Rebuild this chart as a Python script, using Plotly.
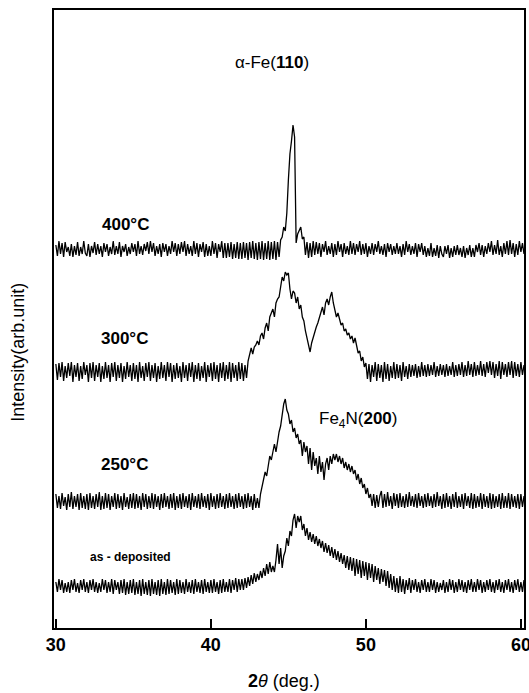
import numpy as np
import plotly.graph_objects as go

# 2-theta sampling grid (deg), 30.0 .. 60.2 in 0.1 deg steps
two_theta = np.round(np.arange(300, 603) / 10.0, 1)

# Intensity (arb. units, relative to each pattern's own baseline)
int_400C = [
    4,-7,8,-5,6,-8,7,-3,2,-7,
    5,-8,3,-6,7,-7,2,-5,8,-4,
    -7,5,-8,3,-4,7,-6,5,-5,3,
    -8,6,-3,5,-7,2,-5,8,-6,3,
    -5,7,-8,3,-3,5,-7,2,-5,6,
    -3,5,-7,8,-5,3,-6,5,-2,7,
    -5,8,-3,6,-7,3,-5,5,-8,6,
    -3,5,-7,3,-5,8,-3,6,-7,5,
    -5,7,-3,8,-7,5,-5,3,-7,8,
    -5,6,-8,5,-3,7,-8,5,-7,3,
    -7,8,-5,6,-9,5,-3,8,-9,6,
    -9,6,-8,7,-10,5,-9,7,-10,6,
    -10,7,-9,6,-11,7,-9,8,-10,6,
    -11,7,-10,8,-11,6,-10,8,-11,7,
    -10,8,-11,7,-8,9,12,22,18,36,
    69,95,108,124,112,6,15,18,22,10,
    12,-6,7,-9,6,-8,8,-6,7,-5,
    6,-8,5,-3,8,-6,3,-5,6,-8,
    5,-6,8,-3,5,-8,6,-5,3,-6,
    8,-5,6,-6,5,-3,8,-6,5,-5,
    6,-8,3,-5,6,-6,5,-3,8,-5,
    3,-6,5,-8,6,-3,5,-6,3,-5,
    6,-5,3,-8,5,-6,8,-3,5,-6,
    3,-5,6,-8,5,-3,6,-6,3,-8,
    1,-7,6,-8,1,-7,4,-9,3,-5,
    -8,3,-5,4,-9,1,-8,3,-6,4,
    -6,1,-8,3,-9,1,-6,4,-8,1,
    -8,4,-3,6,-6,4,-8,3,-5,6,
    -3,8,-6,4,-5,9,-6,3,-8,6,
    -5,8,-6,9,-5,6,-8,5,-6,8,
    -3,6,-5,
]

int_300C = [
    5,-11,6,-8,7,-12,3,-9,6,-7,
    7,-13,4,-8,6,-12,3,-10,7,-6,
    4,-13,6,-9,7,-12,4,-8,6,-13,
    3,-10,7,-9,4,-13,6,-8,7,-12,
    4,-9,6,-13,3,-10,7,-8,4,-12,
    6,-10,4,-13,7,-9,3,-12,6,-8,
    7,-12,4,-9,6,-13,3,-10,7,-9,
    4,-12,7,-8,6,-13,4,-10,6,-9,
    3,-13,7,-9,4,-12,6,-8,7,-13,
    4,-10,6,-12,3,-9,7,-13,4,-8,
    6,-12,7,-10,4,-13,6,-9,7,-12,
    4,-10,7,-13,6,-9,4,-12,7,-10,
    6,-12,4,-9,8,14,21,15,22,24,
    28,24,33,36,30,41,46,38,52,56,
    60,52,66,70,72,82,92,88,97,94,
    96,80,70,78,76,66,72,60,64,52,
    48,38,30,24,17,26,32,36,42,46,
    52,58,62,54,66,70,64,72,77,66,
    59,52,56,49,44,46,38,40,34,36,
    30,33,26,31,22,16,18,8,12,2,
    6,-10,5,-13,4,-8,7,-12,5,-9,
    4,-13,7,-10,5,-12,3,-9,7,-10,
    5,-9,4,-12,7,-8,3,-10,5,-8,
    4,-7,5,-9,3,-8,7,-7,4,-8,
    5,-7,4,-6,7,-8,3,-7,5,-6,
    4,-8,5,-7,3,-6,7,-8,4,-7,
    5,-6,7,-8,4,-7,8,-6,5,-8,
    7,-7,4,-6,8,-7,5,-8,7,-4,
    8,-6,7,-9,5,-7,8,-10,7,-6,
    5,-8,7,-6,8,-9,7,-7,5,-8,
    7,-6,4,
]

int_250C = [
    6,-8,4,-9,7,-6,3,-10,6,-7,
    8,-9,4,-7,6,-10,7,-8,4,-9,
    6,-10,7,-8,4,-9,6,-7,8,-10,
    4,-9,7,-8,6,-10,4,-7,7,-9,
    6,-8,4,-10,7,-7,3,-9,6,-8,
    7,-9,6,-8,4,-10,7,-7,6,-9,
    4,-8,7,-9,6,-7,4,-10,6,-8,
    7,-7,4,-9,6,-8,7,-10,4,-8,
    6,-9,7,-7,4,-8,6,-10,7,-7,
    4,-8,6,-9,7,-7,4,-8,6,-10,
    7,-7,4,-9,6,-8,7,-7,4,-9,
    6,-8,7,-7,4,-9,6,-8,7,-7,
    4,-9,6,-8,7,-7,4,-10,6,-8,
    2,-8,6,14,22,28,24,36,44,40,
    50,56,48,60,68,74,86,96,101,90,
    86,76,80,68,72,62,66,56,60,44,
    58,48,54,36,52,30,48,34,42,26,
    44,28,38,20,36,42,30,44,36,46,
    40,46,38,44,36,42,32,38,30,36,
    28,34,26,30,20,26,16,22,12,16,
    6,12,2,6,-6,6,-8,5,-7,4,
    9,-8,6,-7,8,-6,4,-9,7,-6,
    6,-8,7,-7,4,-8,6,-7,8,-6,
    4,-7,6,-8,7,-6,4,-8,6,-7,
    7,-6,4,-8,6,-7,8,-6,4,-9,
    6,-8,7,-7,4,-9,6,-7,8,-8,
    4,-7,6,-9,7,-6,4,-8,7,-9,
    6,-8,4,-7,7,-9,6,-7,4,-8,
    7,-9,6,-8,4,-7,6,-9,7,-8,
    4,-8,7,-9,6,-7,4,-8,6,-9,
    6,-7,4,
]

int_as_dep = [
    4,-6,7,-4,6,-7,3,-6,4,-7,
    6,-4,7,-6,3,-7,6,-4,7,-6,
    4,-7,6,-4,7,-6,4,-7,3,-6,
    7,-4,6,-7,4,-6,7,-8,6,-4,
    4,-8,6,-7,7,-9,4,-8,6,-7,
    7,-9,4,-8,6,-10,7,-8,4,-9,
    6,-10,7,-8,4,-9,6,-10,7,-8,
    4,-9,7,-8,6,-7,4,-9,7,-8,
    6,-7,4,-8,7,-6,4,-7,6,-8,
    7,-6,4,-7,6,-8,7,-6,4,-7,
    6,-7,7,-6,4,-8,6,-7,7,-6,
    4,-6,7,-7,6,-4,8,-6,7,-4,
    7,-4,8,-2,9,0,11,2,13,4,
    12,6,15,8,18,10,22,12,24,14,
    20,14,26,42,22,38,18,30,35,48,
    40,55,50,66,72,58,70,64,70,56,
    62,50,58,46,54,44,52,42,50,40,
    47,38,45,34,43,33,41,30,39,28,
    37,26,35,24,33,22,31,18,30,16,
    29,15,28,10,27,12,26,8,25,10,
    24,6,23,8,22,4,20,6,18,2,
    17,4,16,0,15,-2,12,-4,10,-6,
    8,-7,10,-6,7,-8,6,-4,8,-7,
    6,-4,7,-6,4,-7,6,-4,7,-6,
    4,-6,7,-4,6,-7,4,-6,3,-4,
    6,-7,4,-6,7,-4,6,-7,4,-6,
    7,-4,6,-6,4,-7,6,-4,7,-6,
    4,-6,7,-4,6,-7,4,-6,6,-4,
    7,-6,4,-7,6,-4,7,-6,4,-7,
    6,-4,7,-6,4,-7,6,-4,7,-6,
    4,-6,6,
]

series = [
    ("400°C", int_400C, 379),
    ("300°C", int_300C, 259),
    ("250°C", int_250C, 128),
    ("as-deposited", int_as_dep, 42),
]

FONT = "Liberation Sans, Arial, Helvetica, sans-serif"

fig = go.Figure()
for name, vals, base in series:
    fig.add_trace(go.Scatter(
        x=two_theta, y=np.array(vals) + base, mode="lines", name=name,
        line=dict(color="black", width=1.3), showlegend=False,
    ))

fig.update_layout(
    width=529, height=693,
    margin=dict(l=54, r=5, t=10, b=65),
    paper_bgcolor="white", plot_bgcolor="white",
    font=dict(family=FONT, color="black"),
)
fig.update_xaxes(
    range=[29.88, 60.2], tickvals=[30, 40, 50, 60], ticktext=["30", "40", "50", "60"],
    ticks="inside", ticklen=9, tickwidth=1.5, tickcolor="black",
    tickfont=dict(size=18, weight="bold", family=FONT),
    ticklabeloverflow="allow",
    showline=True, linecolor="black", linewidth=1.6, mirror=True,
    showgrid=False, zeroline=False, automargin=False,
)
fig.update_yaxes(
    range=[0, 618], showticklabels=False, ticks="",
    showline=True, linecolor="black", linewidth=1.6, mirror=True,
    showgrid=False, zeroline=False, automargin=False,
)

def ann(text, x, y, size, bold=False, ref="data", **kw):
    fig.add_annotation(
        text=text, x=x, y=y,
        xref="x" if ref == "data" else "paper", yref="y" if ref == "data" else "paper",
        showarrow=False, xanchor="center", yanchor="middle",
        font=dict(size=size, family=FONT, weight="bold" if bold else "normal", color="black"),
        **kw,
    )

ann("α-Fe(<b>110</b>)", 43.94, 566, 17)
ann("400°C", 34.5, 404, 17, bold=True)
ann("300°C", 34.45, 290, 17, bold=True)
ann("250°C", 34.4, 164, 17, bold=True)
ann("as - deposited", 34.8, 71, 12, bold=True)
ann("Fe<sub>4</sub>N(<b>200</b>)", 49.5, 208, 17)

# axis titles
ann("<b>2</b><i>θ</i> (deg.)", 0.49, -0.0858, 18, ref="paper")
ann("Intensity(arb.unit)", -0.0766, 0.447, 18, ref="paper", textangle=-90)

fig.write_html("out.html")
